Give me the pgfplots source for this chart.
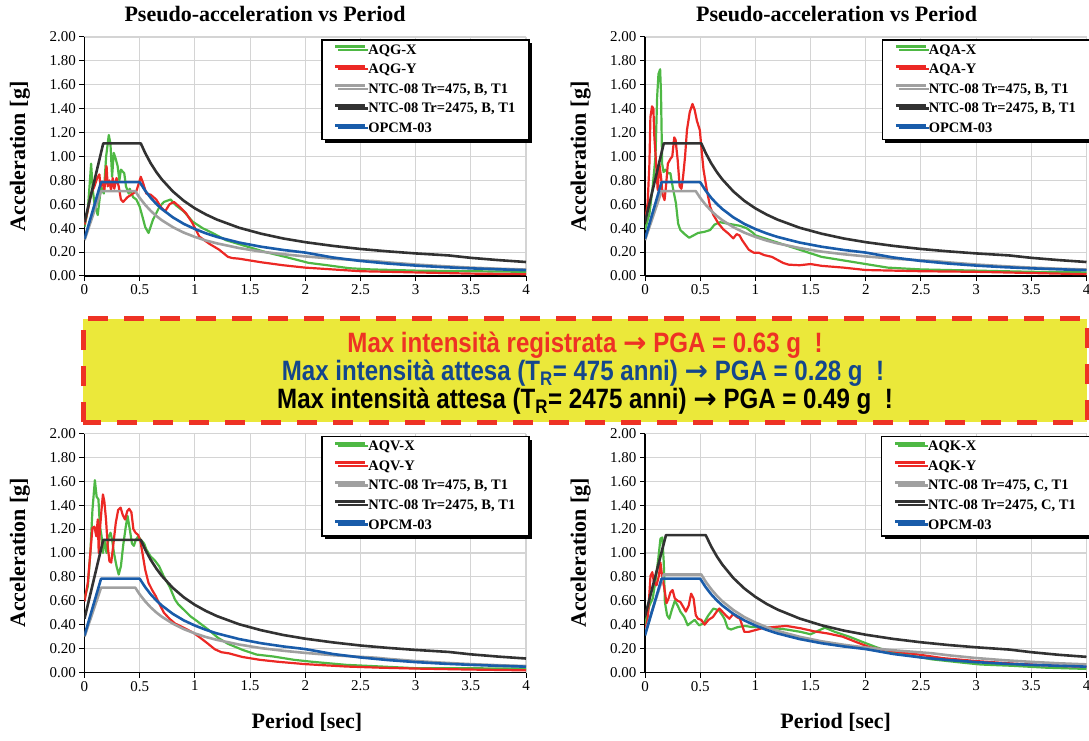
\documentclass[border=0pt]{standalone}
\usepackage{fontspec}
\setmainfont{Liberation Serif}
\newfontfamily\bannerfont[FakeStretch=0.86]{Liberation Sans}
\newfontfamily\symfont{DejaVu Sans}
\usepackage{pgfplots}
\pgfplotsset{compat=1.18}
\usepackage{pgfplotstable}
\usetikzlibrary{shadows}

\definecolor{cGreen}{RGB}{78,184,68}
\definecolor{cRed}{RGB}{236,40,36}
\definecolor{cGray}{RGB}{160,160,160}
\definecolor{cBlack}{RGB}{50,50,50}
\definecolor{cBlue}{RGB}{25,92,170}
\definecolor{cGrid}{RGB}{212,212,212}
\definecolor{cYellow}{RGB}{235,232,58}
\definecolor{cBanRed}{RGB}{238,50,36}
\definecolor{cBanBlue}{RGB}{20,70,140}

% code spectra
\pgfplotstableread{
T A
0 0.30
0.15 0.71
0.46 0.71
0.5 0.654
0.55 0.595
0.6 0.545
0.65 0.503
0.7 0.467
0.8 0.409
0.9 0.363
1.0 0.327
1.1 0.297
1.2 0.273
1.4 0.234
1.6 0.204
1.8 0.182
2.0 0.164
2.25 0.145
2.5 0.131
2.64 0.124
2.75 0.114
3.0 0.096
3.25 0.082
3.5 0.070
3.75 0.061
4.0 0.054
}\ntcBlow

\pgfplotstableread{
T A
0 0.45
0.17 1.11
0.51 1.11
0.55 1.029
0.6 0.943
0.65 0.871
0.7 0.809
0.8 0.708
0.9 0.629
1.0 0.566
1.1 0.515
1.2 0.472
1.4 0.404
1.6 0.354
1.8 0.314
2.0 0.283
2.25 0.252
2.5 0.226
2.75 0.206
3.0 0.189
3.3 0.172
3.5 0.152
3.75 0.133
4.0 0.117
}\ntcBhigh

\pgfplotstableread{
T A
0 0.31
0.15 0.785
0.5 0.785
0.55 0.714
0.6 0.654
0.65 0.604
0.7 0.561
0.8 0.491
0.9 0.436
1.0 0.393
1.1 0.357
1.2 0.327
1.4 0.280
1.6 0.245
1.8 0.218
2.0 0.196
2.25 0.155
2.5 0.126
2.75 0.104
3.0 0.087
3.25 0.074
3.5 0.064
3.75 0.056
4.0 0.049
}\opcm

\pgfplotstableread{
T A
0 0.33
0.17 0.82
0.51 0.82
0.55 0.760
0.6 0.697
0.65 0.643
0.7 0.597
0.8 0.523
0.9 0.464
1.0 0.418
1.1 0.380
1.2 0.348
1.4 0.299
1.6 0.261
1.8 0.232
2.0 0.209
2.25 0.186
2.6 0.161
2.75 0.144
3.0 0.121
3.25 0.103
3.5 0.089
3.75 0.077
4.0 0.068
}\ntcClow

\pgfplotstableread{
T A
0 0.47
0.19 1.15
0.55 1.15
0.6 1.054
0.65 0.973
0.7 0.904
0.8 0.791
0.9 0.703
1.0 0.633
1.1 0.575
1.2 0.527
1.4 0.452
1.6 0.395
1.8 0.351
2.0 0.316
2.25 0.281
2.5 0.253
2.75 0.230
3.0 0.211
3.3 0.192
3.5 0.170
3.75 0.148
4.0 0.131
}\ntcChigh

\tikzset{
  rec/.style={line width=2.2pt, line join=round},
  code/.style={line width=2.6pt, line join=round},
}

\pgfplotsset{
  panel/.style={
    anchor=south west, scale only axis,
    width=441.5pt, height=239pt,
    xmin=0, xmax=4, ymin=0, ymax=2,
    xtick={0,0.5,1,1.5,2,2.5,3,3.5,4},
    ytick={0,0.2,0.4,0.6,0.8,1,1.2,1.4,1.6,1.8,2},
    yticklabel style={/pgf/number format/.cd, fixed, fixed zerofill, precision=2},
    /pgf/number format/assume math mode=true,
    tick label style={font=\fontsize{15}{15}\selectfont},
    grid=major, grid style={line width=1.1pt, cGrid},
    axis x line*=bottom, axis y line*=left,
    axis line style={line width=1.2pt, black},
    tick align=outside, major tick length=5pt,
    tick style={line width=1pt, black},
    ylabel={Acceleration [g]},
    ylabel style={font=\bfseries\fontsize{22}{24}\selectfont,
      at={(axis description cs:-0.146,0.5)}, anchor=center},
    title style={font=\bfseries\fontsize{22}{24}\selectfont, anchor=center},
    legend cell align=left,
    legend image code/.code={\draw[#1, line width=3pt, line cap=butt] (0pt,4pt) -- (30pt,4pt);},
    legend style={at={(rel axis cs:1.008,0.99)}, anchor=north east,
      draw=black, line width=1.5pt, fill=white,
      drop shadow={shadow xshift=3pt, shadow yshift=-3pt, fill=black, opacity=1},
      font=\bfseries\fontsize{14.5}{16}\selectfont,
      inner xsep=12pt, inner ysep=2.5pt, row sep=3.6pt,
      nodes={inner sep=1.5pt, text height=10pt, text depth=3pt}},
  },
}

\begin{document}
\begin{tikzpicture}[x=1pt,y=1pt]
\useasboundingbox (0,0) rectangle (1089,740);

% ---------------- top left: AQG
\begin{axis}[panel, at={(84.5pt,464pt)},
  title={Pseudo-acceleration vs Period},
  title style={at={(axis description cs:0.409,1.071)}}]
\addplot[cGreen, rec] coordinates {
(0,0.41) (0.03,0.55) (0.06,0.94) (0.075,0.72) (0.09,0.61) (0.12,0.51) (0.15,0.75)
(0.175,0.69) (0.196,1.0) (0.22,1.18) (0.235,1.11) (0.25,0.83) (0.265,1.03) (0.28,0.99)
(0.30,0.92) (0.316,0.80) (0.33,0.89) (0.36,0.86) (0.376,0.75) (0.40,0.69) (0.41,0.73)
(0.44,0.66) (0.47,0.64) (0.50,0.58) (0.53,0.48) (0.55,0.41) (0.58,0.36) (0.62,0.47)
(0.68,0.58) (0.72,0.62) (0.78,0.64) (0.83,0.59) (0.90,0.54) (0.98,0.455) (1.07,0.40)
(1.16,0.36) (1.28,0.30) (1.46,0.25) (1.64,0.20) (1.82,0.16) (2.03,0.11) (2.2,0.09)
(2.4,0.065) (2.6,0.055) (2.8,0.05) (3.0,0.045) (3.5,0.04) (4.0,0.035)};
\addlegendentry{AQG-X}
\addplot[cRed, rec] coordinates {
(0,0.43) (0.03,0.55) (0.06,0.69) (0.09,0.75) (0.115,0.82) (0.135,0.85) (0.145,0.75)
(0.16,0.79) (0.18,0.72) (0.2,0.92) (0.21,0.75) (0.225,0.80) (0.24,0.72) (0.256,0.82)
(0.27,0.73) (0.29,0.82) (0.31,0.75) (0.33,0.64) (0.35,0.62) (0.39,0.66) (0.44,0.69)
(0.47,0.71) (0.50,0.80) (0.51,0.83) (0.53,0.78) (0.56,0.69) (0.60,0.68) (0.65,0.64)
(0.69,0.58) (0.73,0.54) (0.77,0.60) (0.81,0.62) (0.86,0.58) (0.92,0.525) (0.98,0.44)
(1.04,0.33) (1.13,0.27) (1.22,0.22) (1.30,0.16) (1.34,0.15) (1.4,0.145) (1.6,0.115)
(1.8,0.09) (2.0,0.07) (2.25,0.055) (2.5,0.04) (3.0,0.03) (3.5,0.02) (4.0,0.015)};
\addlegendentry{AQG-Y}
\addplot[cGray, code] table[x=T, y=A] {\ntcBlow};
\addlegendentry{NTC-08 Tr=475, B, T1}
\addplot[cBlack, code] table[x=T, y=A] {\ntcBhigh};
\addlegendentry{NTC-08 Tr=2475, B, T1}
\addplot[cBlue, code] table[x=T, y=A] {\opcm};
\addlegendentry{OPCM-03}
\end{axis}

% ---------------- top right: AQA
\begin{axis}[panel, at={(645pt,464pt)},
  title={Pseudo-acceleration vs Period},
  title style={at={(axis description cs:0.434,1.071)}}]
\addplot[cGreen, rec] coordinates {
(0,0.385) (0.04,0.52) (0.07,0.75) (0.095,1.0) (0.11,1.5) (0.122,1.69) (0.137,1.73)
(0.145,1.53) (0.155,0.94) (0.168,0.87) (0.186,0.89) (0.207,0.86) (0.23,0.86) (0.25,0.75)
(0.28,0.61) (0.30,0.44) (0.32,0.385) (0.36,0.35) (0.40,0.32) (0.44,0.34) (0.48,0.36)
(0.54,0.37) (0.59,0.385) (0.63,0.43) (0.68,0.45) (0.74,0.44) (0.80,0.43) (0.86,0.42)
(0.92,0.40) (0.98,0.36) (1.0,0.34) (1.2,0.28) (1.4,0.22) (1.6,0.16) (1.8,0.13)
(2.0,0.10) (2.2,0.07) (2.5,0.055) (3.0,0.045) (3.5,0.035) (4.0,0.03)};
\addlegendentry{AQA-X}
\addplot[cRed, rec] coordinates {
(0,0.45) (0.024,0.61) (0.04,0.94) (0.049,1.33) (0.064,1.42) (0.076,1.40) (0.085,1.16)
(0.10,0.95) (0.115,0.72) (0.13,0.94) (0.145,0.83) (0.16,0.68) (0.177,0.635) (0.19,0.75)
(0.207,0.94) (0.23,0.98) (0.247,1.0) (0.265,1.16) (0.277,1.14) (0.296,0.97) (0.314,0.75)
(0.33,0.73) (0.345,0.83) (0.363,1.0) (0.38,1.22) (0.405,1.37) (0.43,1.44) (0.45,1.39)
(0.47,1.30) (0.497,1.22) (0.515,1.03) (0.53,0.89) (0.56,0.72) (0.59,0.58) (0.62,0.51)
(0.665,0.44) (0.71,0.39) (0.756,0.355) (0.80,0.315) (0.83,0.35) (0.856,0.34) (0.88,0.30)
(0.91,0.26) (0.94,0.22) (0.985,0.195) (1.03,0.195) (1.08,0.175) (1.15,0.16) (1.25,0.11)
(1.3,0.095) (1.4,0.09) (1.5,0.10) (1.6,0.085) (1.8,0.07) (2.0,0.05) (2.5,0.04)
(3.0,0.035) (3.5,0.025) (4.0,0.015)};
\addlegendentry{AQA-Y}
\addplot[cGray, code] table[x=T, y=A] {\ntcBlow};
\addlegendentry{NTC-08 Tr=475, B, T1}
\addplot[cBlack, code] table[x=T, y=A] {\ntcBhigh};
\addlegendentry{NTC-08 Tr=2475, B, T1}
\addplot[cBlue, code] table[x=T, y=A] {\opcm};
\addlegendentry{OPCM-03}
\end{axis}

% ---------------- bottom left: AQV
\begin{axis}[panel, at={(84.5pt,67.5pt)},
  xlabel={Period [sec]},
  xlabel style={font=\bfseries\fontsize{22}{24}\selectfont,
    at={(axis description cs:0.504,-0.21)}, anchor=center}]
\addplot[cGreen, rec] coordinates {
(0,0.62) (0.03,0.72) (0.053,1.0) (0.072,1.36) (0.094,1.61) (0.11,1.47) (0.126,1.45)
(0.14,1.22) (0.155,1.14) (0.167,1.0) (0.18,1.11) (0.2,1.0) (0.22,1.14) (0.236,1.17)
(0.25,1.11) (0.267,1.0) (0.29,0.89) (0.31,0.82) (0.33,0.89) (0.35,1.06) (0.374,1.22)
(0.39,1.31) (0.41,1.20) (0.43,1.08) (0.447,1.06) (0.465,1.11) (0.487,1.14) (0.51,1.11)
(0.54,1.08) (0.56,1.03) (0.60,0.97) (0.635,0.94) (0.676,0.89) (0.72,0.80) (0.77,0.72)
(0.82,0.61) (0.85,0.57) (0.90,0.525) (0.96,0.47) (1.02,0.43) (1.12,0.36) (1.21,0.29)
(1.30,0.24) (1.43,0.19) (1.56,0.15) (1.71,0.134) (1.9,0.106) (2.06,0.09) (2.37,0.064)
(2.69,0.05) (3.0,0.036) (3.5,0.035) (4.0,0.034)};
\addlegendentry{AQV-X}
\addplot[cRed, rec] coordinates {
(0,0.595) (0.03,0.75) (0.053,1.0) (0.072,1.21) (0.09,1.22) (0.107,1.14) (0.12,1.28)
(0.129,1.0) (0.14,1.2) (0.154,1.36) (0.167,1.49) (0.18,1.43) (0.195,1.28) (0.21,1.06)
(0.226,0.93) (0.242,0.92) (0.26,1.06) (0.283,1.25) (0.305,1.36) (0.327,1.38) (0.346,1.32)
(0.368,1.28) (0.387,1.35) (0.405,1.37) (0.425,1.34) (0.443,1.2) (0.462,1.17) (0.487,1.15)
(0.506,1.10) (0.525,1.0) (0.55,0.86) (0.58,0.75) (0.613,0.69) (0.645,0.64) (0.68,0.57)
(0.72,0.50) (0.77,0.45) (0.82,0.41) (0.865,0.39) (0.93,0.36) (0.99,0.33) (1.05,0.29)
(1.12,0.24) (1.18,0.195) (1.24,0.17) (1.31,0.16) (1.43,0.13) (1.59,0.106) (1.75,0.09)
(2.0,0.07) (2.37,0.05) (2.69,0.04) (3.0,0.033) (3.47,0.025) (4.0,0.018)};
\addlegendentry{AQV-Y}
\addplot[cGray, code] table[x=T, y=A] {\ntcBlow};
\addlegendentry{NTC-08 Tr=475, B, T1}
\addplot[cBlack, code] table[x=T, y=A] {\ntcBhigh};
\addlegendentry{NTC-08 Tr=2475, B, T1}
\addplot[cBlue, code] table[x=T, y=A] {\opcm};
\addlegendentry{OPCM-03}
\end{axis}

% ---------------- bottom right: AQK
\begin{axis}[panel, at={(645pt,67.5pt)},
  xlabel={Period [sec]},
  xlabel style={font=\bfseries\fontsize{22}{24}\selectfont,
    at={(axis description cs:0.432,-0.21)}, anchor=center}]
\addplot[cGreen, rec] coordinates {
(0,0.40) (0.04,0.56) (0.07,0.62) (0.094,0.76) (0.12,0.95) (0.14,1.12) (0.157,1.13)
(0.17,0.92) (0.18,0.59) (0.2,0.48) (0.22,0.45) (0.245,0.53) (0.27,0.60) (0.296,0.56)
(0.32,0.51) (0.355,0.465) (0.387,0.395) (0.42,0.42) (0.45,0.44) (0.49,0.395) (0.53,0.41)
(0.575,0.48) (0.62,0.535) (0.67,0.52) (0.70,0.48) (0.72,0.45) (0.75,0.37) (0.78,0.36)
(0.84,0.38) (0.905,0.39) (0.97,0.38) (1.09,0.38) (1.28,0.36) (1.41,0.34) (1.50,0.32)
(1.57,0.35) (1.63,0.375) (1.72,0.34) (1.85,0.30) (1.97,0.256) (2.1,0.21) (2.23,0.17)
(2.42,0.14) (2.6,0.11) (2.86,0.084) (3.04,0.067) (3.33,0.056) (3.64,0.04) (4.0,0.03)};
\addlegendentry{AQK-X}
\addplot[cRed, rec] coordinates {
(0,0.34) (0.025,0.45) (0.05,0.81) (0.066,0.84) (0.08,0.76) (0.104,0.73) (0.126,0.81)
(0.14,0.92) (0.157,0.79) (0.176,0.70) (0.195,0.58) (0.214,0.62) (0.23,0.67) (0.25,0.69)
(0.27,0.62) (0.296,0.60) (0.32,0.59) (0.346,0.55) (0.37,0.51) (0.396,0.56) (0.418,0.66)
(0.44,0.62) (0.46,0.48) (0.48,0.45) (0.51,0.44) (0.54,0.40) (0.575,0.44) (0.616,0.465)
(0.65,0.51) (0.673,0.535) (0.70,0.51) (0.73,0.48) (0.764,0.45) (0.80,0.49) (0.83,0.465)
(0.86,0.45) (0.90,0.34) (0.94,0.34) (1.0,0.355) (1.06,0.37) (1.16,0.38) (1.28,0.39)
(1.41,0.37) (1.53,0.345) (1.66,0.326) (1.79,0.30) (1.91,0.256) (2.04,0.21) (2.23,0.18)
(2.48,0.15) (2.70,0.12) (3.01,0.095) (3.33,0.075) (3.64,0.06) (4.0,0.047)};
\addlegendentry{AQK-Y}
\addplot[cGray, code] table[x=T, y=A] {\ntcClow};
\addlegendentry{NTC-08 Tr=475, C, T1}
\addplot[cBlack, code] table[x=T, y=A] {\ntcChigh};
\addlegendentry{NTC-08 Tr=2475, C, T1}
\addplot[cBlue, code] table[x=T, y=A] {\opcm};
\addlegendentry{OPCM-03}
\end{axis}

% ---------------- banner
\fill[cYellow] (83,318) rectangle (1087,421);
\draw[cBanRed, line width=5pt, dash pattern=on 20pt off 16pt] (83,318) rectangle (1087,421);
\begin{scope}[every node/.style={font=\bannerfont\bfseries\fontsize{28}{30}\selectfont, anchor=center}]
\node[text=cBanRed] at (585,395) {Max intensità registrata {\symfont\bfseries →} PGA = 0.63 g\ \ !};
\node[text=cBanBlue] at (583,367) {Max intensità attesa (T\textsubscript{R}= 475 anni) {\symfont\bfseries →} PGA = 0.28 g\ \ !};
\node[text=black] at (585,339) {Max intensità attesa (T\textsubscript{R}= 2475 anni) {\symfont\bfseries →} PGA = 0.49 g\ \ !};
\end{scope}
\end{tikzpicture}
\end{document}
